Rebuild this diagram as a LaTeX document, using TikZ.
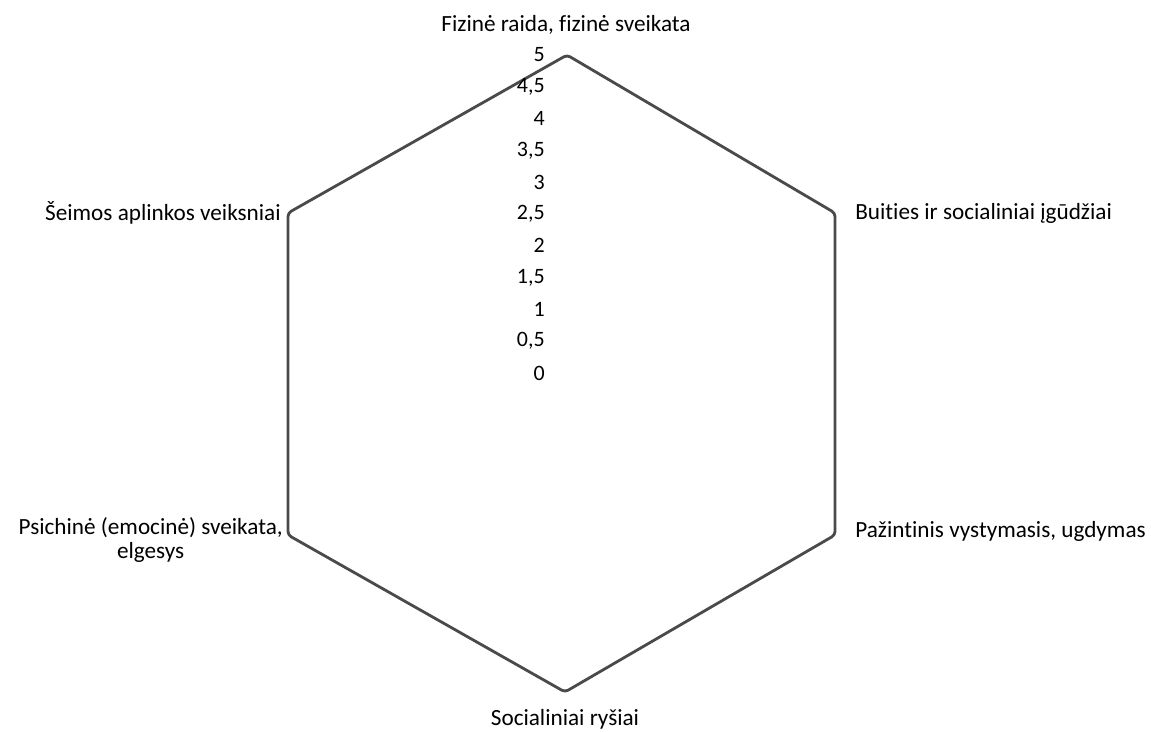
\documentclass[tikz,border=0pt]{standalone}
\usepackage{fontspec}
\setmainfont{Carlito}[Ligatures=NoCommon]
\usepackage{xcolor}
\definecolor{webline}{HTML}{4A4A4A}
\usepackage{tikz}
\usetikzlibrary{positioning}
\tikzset{
  axislabel/.style={font=\fontsize{13.2}{13.5}\selectfont, inner sep=0pt},
  ticklabel/.style={font=\fontsize{12.5}{13}\selectfont, inner sep=0pt, anchor=east},
  web/.style={draw=webline, line width=1.6pt, rounded corners=2pt, line join=round}
}

\begin{document}
\begin{tikzpicture}[x=0.02cm, y=-0.02cm]
  \useasboundingbox (0,0) rectangle (1151,731);

  % --- Hexagon corners ---
  \coordinate (top) at (567,55);
  \coordinate (upright) at (835,213);
  \coordinate (lowright) at (835,535);
  \coordinate (bottom) at (565,692);
  \coordinate (lowleft) at (288,535);
  \coordinate (upleft) at (288,213);

  % Outer frame
  \draw[web] (top) -- (upright) -- (lowright) -- (bottom) -- (lowleft) -- (upleft) -- cycle;

  % --- Scale along the top axis ---
  \foreach \lab [count=\i from 0] in {0,{0,5},1,{1,5},2,{2,5},3,{3,5},4,{4,5},5}
    \node[ticklabel] (tick\i) at (545,373-\i*31.8) {\lab};

  % --- Axis names ---
  \node[axislabel, anchor=base] (fizine) at (566,31) {Fizinė raida, fizinė sveikata};
  \node[axislabel, anchor=west] (buities) at (855,213) {Buities ir socialiniai įgūdžiai};
  \node[axislabel, anchor=west] (pazintinis) at (855,531) {Pažintinis vystymasis, ugdymas};
  \node[axislabel, anchor=base] (socialiniai) at (565,725) {Socialiniai ryšiai};
  \node[axislabel, anchor=east, align=center] (psichine) at (283,540) {Psichinė (emocinė) sveikata,\\ elgesys};
  \node[axislabel, anchor=east] (seimos) at (281,213) {Šeimos aplinkos veiksniai};
\end{tikzpicture}
\end{document}
